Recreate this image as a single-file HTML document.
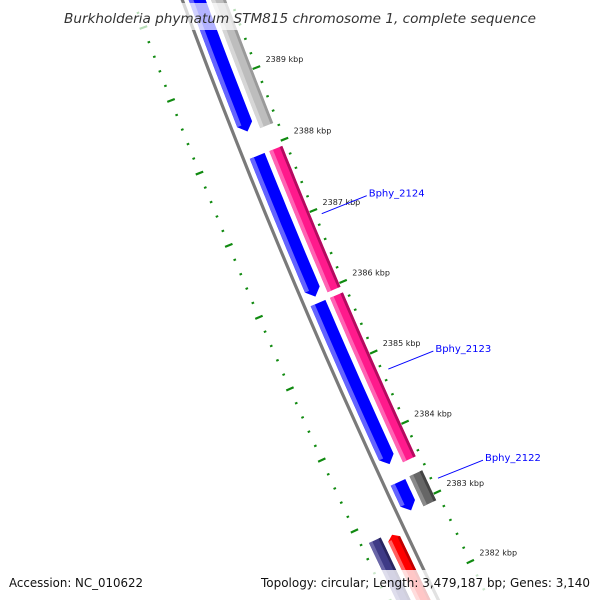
<!DOCTYPE html>
<html><head><meta charset="utf-8"><style>
html,body{margin:0;padding:0;background:#fff;width:600px;height:600px;overflow:hidden;}
svg{display:block;}
</style></head><body>
<svg id="map" width="600" height="600" viewBox="0 0 600 600" xmlns="http://www.w3.org/2000/svg">
<rect x="0" y="0" width="600" height="600" fill="#fff"/>
<g id="ringsG"></g>
<g id="backboneG"></g>
<g id="featG"></g>
<g id="labelG"></g>
<rect x="55" y="3" width="490" height="27" fill="#fff" opacity="0.7"/>
<text x="300" y="23" text-anchor="middle" font-family="DejaVu Sans, sans-serif" font-style="italic" font-size="13.5" fill="#333" textLength="472" lengthAdjust="spacingAndGlyphs">Burkholderia phymatum STM815 chromosome 1, complete sequence</text>
<rect x="0" y="570" width="600" height="30" fill="#fff" opacity="0.78"/>
<text x="9" y="587" font-family="DejaVu Sans, sans-serif" font-size="12.5" fill="#111" textLength="134" lengthAdjust="spacingAndGlyphs">Accession: NC_010622</text>
<text x="261" y="587" font-family="DejaVu Sans, sans-serif" font-size="12.5" fill="#111" textLength="329" lengthAdjust="spacingAndGlyphs">Topology: circular; Length: 3,479,187 bp; Genes: 3,140</text>
</svg>
<script>
// ---- data ----
var featureNames = ['blue-gene-1','gray-gene-1','blue-gene-2','pink-gene-1','blue-gene-3','pink-gene-2','blue-gene-4','darkgray-gene','purple-gene','red-gene'];
var featureStart = [2390.6, 2390.6, 2387.93, 2387.93, 2385.87, 2385.87, 2383.33, 2383.34, 2382.78, 2382.75];
var featureEnd   = [2388.27, 2388.25, 2385.96, 2385.95, 2383.59, 2383.54, 2382.93, 2382.91, 2381.0, 2381.0];
var featureLane  = [1, 2, 1, 2, 1, 2, 1, 2, 3, 4];
var featureColor = ['blue','lgray','blue','pink','blue','pink','blue','dgray','purple','red'];
var tickLabels = [2389, 2388, 2387, 2386, 2385, 2384, 2383, 2382];
var geneLabels = ['Bphy_2124', 'Bphy_2123', 'Bphy_2122'];
var geneLabelKbp = [2386.92, 2384.72, 2383.16];

// ---- geometry ----
var CX = 6373, CY = -2288, R0 = 6600;
var thetaA = Math.atan2(0 - CY, 182 - CX);
function sOf(k){ return 89.8 + (2389 - k) * 77.46; }
function pt(k, d){
  var th = thetaA - sOf(k) / R0, r = R0 - d;
  return [CX + r * Math.cos(th), CY + r * Math.sin(th)];
}
function fmt(p){ return p[0].toFixed(1) + ',' + p[1].toFixed(1); }
var NS = 'http://www.w3.org/2000/svg';
function mk(tag, attrs, parent){
  var e = document.createElementNS(NS, tag);
  for (var a in attrs) e.setAttribute(a, attrs[a]);
  parent.appendChild(e); return e;
}
var palettes = {
  blue:  ['#0000ff', '#6464ff', '#0000c8'],
  pink:  ['#ff1a8c', '#ff64b4', '#b40a5f'],
  lgray: ['#bdbdbd', '#d6d6d6', '#9a9a9a'],
  dgray: ['#666666', '#8a8a8a', '#444444'],
  purple:['#3e3a86', '#6a66a8', '#2a2660'],
  red:   ['#ff0000', '#ff6060', '#c00000']
};
var laneD = {1: [6, 22], 2: [27, 41], 3: [-38, -25], 4: [-20, -7]};

// backbone
(function(){
  var g = document.getElementById('backboneG');
  var pts = [];
  for (var k = 2391.2; k >= 2380.8; k -= 0.5) pts.push(fmt(pt(k, 0)));
  var bb = mk('polyline', {points: pts.join(' '), fill: 'none', stroke: '#7a7a7a', 'stroke-width': 3.2}, g);
  
  
})();

// tick rings
(function(){
  var g = document.getElementById('ringsG');
  for (var i = 0; i <= 50; i++) {
    var k = 2390.6 - i * 0.2;
    var major = Math.abs(k - Math.round(k)) < 0.01;
    var rings = [45.5, -46];
    for (var j = 0; j < 2; j++) {
      var base = rings[j], len = major ? 8 : 2.6;
      var a = pt(k, base - len / 2), b = pt(k, base + len / 2);
      var t = mk('line', {x1: a[0], y1: a[1], x2: b[0], y2: b[1], stroke: '#108a10', 'stroke-width': major ? 2.2 : 2}, g);
      
      
    }
  }
  for (var m = 0; m < tickLabels.length; m++) {
    var p = pt(tickLabels[m], 50);
    var tx = mk('text', {x: p[0] + 5, y: p[1] - 4, 'font-family': 'DejaVu Sans, sans-serif', 'font-size': 8, fill: '#222'}, g);
    tx.textContent = tickLabels[m] + ' kbp';
    
    
  }
})();

// features
(function(){
  var g = document.getElementById('featG');
  function band(k0, k1, d0, d1, head){
    var pts = [], n = 12;
    var kBodyEnd = head > 0 ? k1 + head : k1;
    for (var i = 0; i <= n; i++) pts.push(pt(k0 + (kBodyEnd - k0) * i / n, d0));
    if (head > 0) pts.push(pt(k1, (d0 + d1) / 2));
    for (var i = n; i >= 0; i--) pts.push(pt(k0 + (kBodyEnd - k0) * i / n, d1));
    return pts.map(fmt).join(' ');
  }
  function bandUp(k0, k1, d0, d1, head){
    var pts = [], n = 12, kStart = k0 - head;
    if (head > 0) pts.push(pt(k0, (d0 + d1) / 2));
    for (var i = 0; i <= n; i++) pts.push(pt(kStart + (k1 - kStart) * i / n, d0));
    for (var i = n; i >= 0; i--) pts.push(pt(kStart + (k1 - kStart) * i / n, d1));
    return pts.map(fmt).join(' ');
  }
  for (var f = 0; f < featureNames.length; f++) {
    var pal = palettes[featureColor[f]], ld = laneD[featureLane[f]];
    var k0 = featureStart[f], k1 = featureEnd[f];
    var grp = mk('g', {}, g);
    
    
    var w = ld[1] - ld[0];
    if (featureLane[f] === 1) {
      var h = 0.1;
      var p1 = mk('polygon', {points: band(k0, k1, ld[0], ld[1], h), fill: pal[0]}, grp);
      
      
      var p2 = mk('polygon', {points: band(k0, k1 + h, ld[0], ld[0] + w * 0.28, 0), fill: pal[1]}, grp);
      
      
    } else {
      var h2 = (featureColor[f] === 'red') ? 0.06 : 0;
      var q1 = mk('polygon', {points: bandUp(k0, k1, ld[0], ld[1], h2), fill: pal[0]}, grp);
      
      
      var q2 = mk('polygon', {points: bandUp(k0 - h2, k1, ld[0], ld[0] + w * 0.28, 0), fill: pal[1]}, grp);
      
      
      var q3 = mk('polygon', {points: bandUp(k0 - h2, k1, ld[1] - w * 0.2, ld[1], 0), fill: pal[2]}, grp);
      
      
    }
  }
})();

// gene labels
(function(){
  var g = document.getElementById('labelG');
  for (var i = 0; i < geneLabels.length; i++) {
    var a = pt(geneLabelKbp[i], 52);
    var ln = mk('line', {x1: a[0], y1: a[1], x2: a[0] + 45, y2: a[1] - 18, stroke: '#0000ff', 'stroke-width': 1}, g);
    
    
    var t = mk('text', {x: a[0] + 47, y: a[1] - 17, 'font-family': 'DejaVu Sans, sans-serif', 'font-size': 10, fill: '#0000ff'}, g);
    t.textContent = geneLabels[i];
    
    
  }
})();
</script>
</body></html>
